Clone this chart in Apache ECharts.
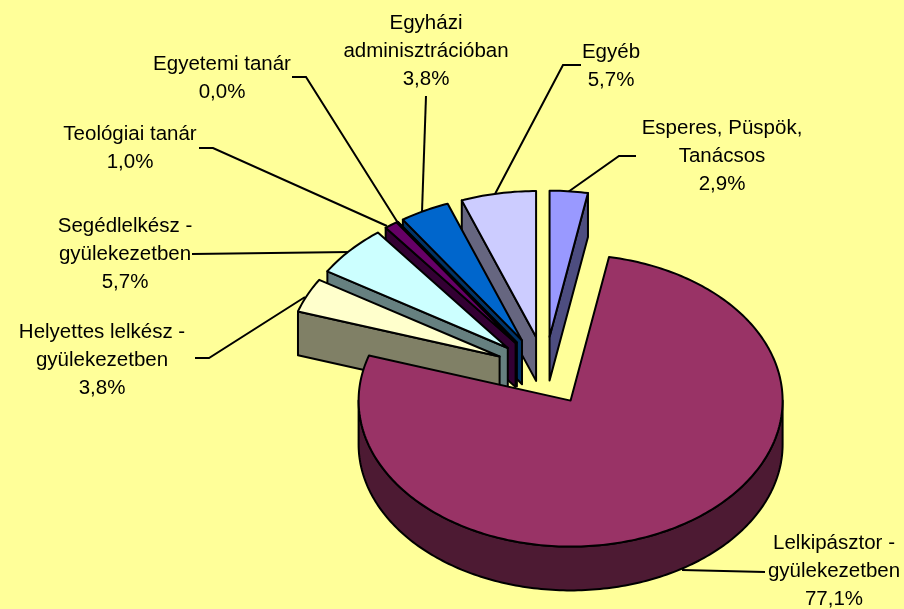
<!DOCTYPE html>
<html>
<head>
<meta charset="utf-8">
<title>Lelkészek megoszlása</title>
<style>
  html, body { margin: 0; padding: 0; background: #ffff99; }
  #chart { width: 904px; height: 609px; }
</style>
</head>
<body>
<div id="chart"></div>
<script src="https://cdn.jsdelivr.net/npm/echarts@6/dist/echarts.min.js"></script>
<script>
// clockwise from 12 o'clock
const sliceNames = [
  'Esperes, Püspök,\nTanácsos',
  'Lelkipásztor -\ngyülekezetben',
  'Helyettes lelkész -\ngyülekezetben',
  'Segédlelkész -\ngyülekezetben',
  'Teológiai tanár',
  'Egyetemi tanár',
  'Egyházi\nadminisztrációban',
  'Egyéb',
]
const sliceShares = [2.9, 77.1, 3.8, 5.7, 1.0, 0.0, 3.8, 5.7]

const topColors = ['#9999ff', '#993366', '#ffffcc', '#ccffff', '#660066', '#ffffff', '#0066cc', '#ccccff']
const sideColors = ['#4d4d80', '#4d1a33', '#808066', '#668080', '#330033', '#808080', '#003366', '#666680']

// back to front, the big slice sits on top of everything
const drawOrder = [0, 7, 6, 5, 4, 3, 2, 1]

// label centre, px
const labelCenters = [
  [722, 156], [834, 571], [102, 360], [125, 254],
  [130, 148], [222, 78], [426, 51], [611, 66],
]
// leader lines, px
const leaderLines = [
  [[636, 156], [619, 156], [568, 192]],
  [[765, 572], [682, 570]],
  [[195, 358], [209, 358], [305, 297]],
  [[192, 254], [350, 252]],
  [[199, 148], [213, 148], [387, 226]],
  [[292, 77], [306, 77], [398, 223]],
  [[426, 96], [422, 212]],
  [[581, 65], [563, 65], [495, 194]],
]

const EXPLODE = 0.236 // in pie radii
const DEPTH = 0.3 // height of the pie, in vertical radii
const rad = (deg) => (deg * Math.PI) / 180

const total = sliceShares.reduce((a, b) => a + b, 0)
let acc = 0
const rows = sliceShares.map((share, i) => {
  const row = [(acc / total) * 360, ((acc + share) / total) * 360, i]
  acc += share
  return row
})

function renderSlice(params, api) {
  const a0 = api.value(0)
  const a1 = api.value(1)
  const idx = api.value(2)
  const mid = rad((a0 + a1) / 2)
  const ex = EXPLODE * Math.sin(mid)
  const ey = EXPLODE * Math.cos(mid)
  const rim = (a, drop) => api.coord([ex + Math.sin(rad(a)), ey + Math.cos(rad(a)) - drop])
  const apex = (drop) => api.coord([ex, ey - drop])
  const arc = (from, to, drop) => {
    const n = Math.max(1, Math.ceil(to - from))
    const pts = []
    for (let k = 0; k <= n; k++) pts.push(rim(from + ((to - from) * k) / n, drop))
    return pts
  }
  const face = (points, fill) => ({
    type: 'polygon',
    shape: { points: points },
    style: { fill: fill, stroke: '#000', lineWidth: 2, lineJoin: 'round' },
  })
  const side = sideColors[idx]
  const children = []
  if (Math.sin(rad(a0)) < -1e-6) {
    children.push(face([apex(0), rim(a0, 0), rim(a0, DEPTH), apex(DEPTH)], side))
  }
  if (Math.sin(rad(a1)) > 1e-6) {
    children.push(face([apex(0), rim(a1, 0), rim(a1, DEPTH), apex(DEPTH)], side))
  }
  const lo = Math.max(a0, 90)
  const hi = Math.min(a1, 270)
  if (hi > lo) {
    children.push(face([...arc(lo, hi, 0), ...arc(lo, hi, DEPTH).reverse()], side))
  }
  children.push(face([apex(0), ...arc(a0, a1, 0)], topColors[idx]))
  return { type: 'group', children: children }
}

const labelGraphics = sliceNames.map((name, i) => ({
  type: 'text',
  silent: true,
  x: labelCenters[i][0],
  y: labelCenters[i][1],
  style: {
    text: name + '\n' + sliceShares[i].toFixed(1).replace('.', ',') + '%',
    align: 'center',
    verticalAlign: 'middle',
    lineHeight: 28,
    fontFamily: '"Liberation Sans", Arial, sans-serif',
    fontSize: 20.5,
    fill: '#000',
  },
}))
const lineGraphics = leaderLines.map((points) => ({
  type: 'polyline',
  silent: true,
  shape: { points: points },
  style: { fill: null, stroke: '#000', lineWidth: 2 },
}))

const chart = echarts.init(document.getElementById('chart'), null, { renderer: 'canvas' })
chart.setOption({
  animation: false,
  backgroundColor: '#ffff99',
  // unit circle squashed into the tilted ellipse by the grid
  grid: { left: 333, top: 225, width: 424, height: 292 },
  xAxis: { type: 'value', min: -1, max: 1, show: false },
  yAxis: { type: 'value', min: -1, max: 1, show: false },
  series: [
    {
      type: 'custom',
      coordinateSystem: 'cartesian2d',
      clip: false,
      silent: true,
      renderItem: renderSlice,
      data: drawOrder.map((i) => rows[i]),
    },
  ],
  graphic: { elements: [...lineGraphics, ...labelGraphics] },
})
</script>
</body>
</html>
